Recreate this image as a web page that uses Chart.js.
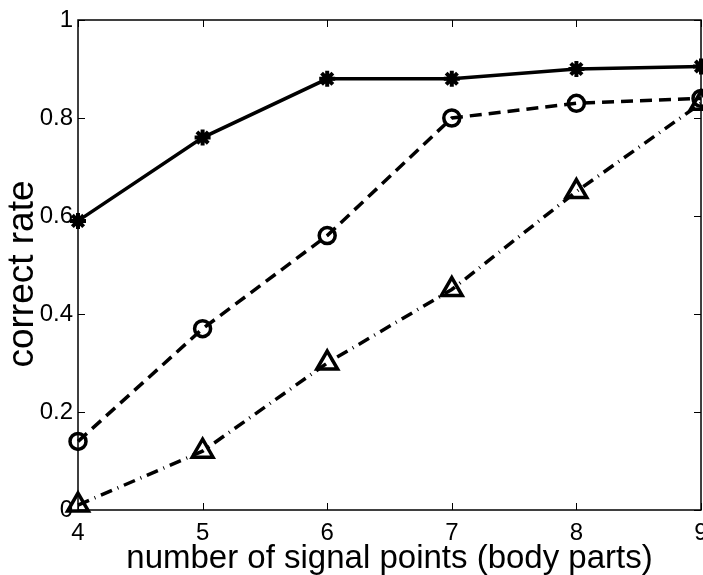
<!DOCTYPE html>
<html>
<head>
<meta charset="utf-8">
<script src="https://cdn.jsdelivr.net/npm/chart.js@4.4.0/dist/chart.umd.min.js"></script>
<style>
  html, body { margin: 0; padding: 0; background: #fff; }
  #wrap { width: 703px; height: 575px; }
</style>
</head>
<body>
<div id="wrap"><canvas id="rateChart" width="703" height="575"></canvas></div>
<script>
// numero di punti segnale (parti del corpo)
const signalPoints = [4, 5, 6, 7, 8, 9];

// tasso di riconoscimento per le tre configurazioni
const rateStar = [0.59, 0.76, 0.88, 0.88, 0.90, 0.905];
const rateCircle = [0.14, 0.37, 0.56, 0.80, 0.83, 0.84];
const rateTriangle = [0.01, 0.12, 0.30, 0.45, 0.65, 0.83];

const xTicks = [4, 5, 6, 7, 8, 9];
const yTicks = [0, 0.2, 0.4, 0.6, 0.8, 1];

const xTitle = 'number of signal points (body parts)';
const yTitle = 'correct rate';

const FONT = '"Liberation Sans", Arial, Helvetica, sans-serif';

function toPoints(values) {
    return signalPoints.map((x, i) => ({ x: x, y: values[i] }));
}

// cornice, tacche interne e titoli degli assi
const framePlugin = {
    id: 'frame',
    afterDraw(chart) {
        const { ctx, chartArea: a, scales } = chart;
        const tl = 7;
        ctx.save();
        ctx.strokeStyle = '#000';
        ctx.lineWidth = 1.5;
        ctx.strokeRect(a.left, a.top, a.right - a.left, a.bottom - a.top);

        ctx.lineWidth = 1;
        ctx.beginPath();
        xTicks.forEach(v => {
            const px = Math.round(scales.x.getPixelForValue(v)) + 0.5;
            ctx.moveTo(px, a.bottom); ctx.lineTo(px, a.bottom - tl);
            ctx.moveTo(px, a.top); ctx.lineTo(px, a.top + tl);
        });
        yTicks.forEach(v => {
            const py = Math.round(scales.y.getPixelForValue(v)) + 0.5;
            ctx.moveTo(a.left, py); ctx.lineTo(a.left + tl, py);
            ctx.moveTo(a.right, py); ctx.lineTo(a.right - tl, py);
        });
        ctx.stroke();

        ctx.fillStyle = '#000';
        ctx.font = '33px ' + FONT;
        ctx.textAlign = 'center';
        ctx.textBaseline = 'alphabetic';
        ctx.fillText(xTitle, (a.left + a.right) / 2, 568);

        ctx.translate(33, (a.top + a.bottom) / 2 + 9);
        ctx.rotate(-Math.PI / 2);
        ctx.font = '37px ' + FONT;
        ctx.fillText(yTitle, 0, 0);
        ctx.restore();
    }
};

const ctx = document.getElementById('rateChart').getContext('2d');

const rateChart = new Chart(ctx, {
    type: 'line',
    data: {
        datasets: [
            {
                label: 'star',
                data: toPoints(rateStar),
                borderColor: '#000',
                borderWidth: 3.5,
                pointStyle: 'star',
                pointRadius: 8,
                pointBorderWidth: 4,
                pointBorderColor: '#000',
                pointBackgroundColor: '#000',
                clip: false
            },
            {
                label: 'circle',
                data: toPoints(rateCircle),
                borderColor: '#000',
                borderWidth: 3.5,
                borderDash: [12, 7],
                pointStyle: 'circle',
                pointRadius: 8,
                pointBorderWidth: 3.5,
                pointBorderColor: '#000',
                pointBackgroundColor: 'rgba(0,0,0,0)',
                clip: false
            },
            {
                label: 'triangle',
                data: toPoints(rateTriangle),
                borderColor: '#000',
                borderWidth: 3.5,
                borderDash: [12, 6, 1, 6],
                pointStyle: 'triangle',
                pointRadius: 12,
                pointBorderWidth: 3.5,
                pointBorderColor: '#000',
                pointBackgroundColor: 'rgba(0,0,0,0)',
                clip: false
            }
        ]
    },
    options: {
        responsive: false,
        animation: false,
        layout: { autoPadding: false, padding: { left: 0, right: 2, top: 20, bottom: 0 } },
        plugins: {
            legend: { display: false },
            tooltip: { enabled: false }
        },
        elements: { line: { tension: 0, borderCapStyle: 'butt' } },
        scales: {
            x: {
                type: 'linear',
                min: 4,
                max: 9,
                afterBuildTicks(scale) {
                    scale.ticks = xTicks.map(v => ({ value: v }));
                },
                afterFit(scale) {
                    scale.height = 65;
                    scale.paddingLeft = 0;
                    scale.paddingRight = 0;
                },
                grid: { display: false, drawTicks: false },
                border: { display: false },
                ticks: {
                    color: '#000',
                    font: { family: FONT, size: 24 },
                    padding: 9,
                    maxRotation: 0,
                    autoSkip: false,
                    callback: v => String(v)
                }
            },
            y: {
                type: 'linear',
                min: 0,
                max: 1,
                afterBuildTicks(scale) {
                    scale.ticks = yTicks.map(v => ({ value: v }));
                },
                afterFit(scale) {
                    scale.width = 78;
                    scale.paddingTop = 0;
                    scale.paddingBottom = 0;
                },
                grid: { display: false, drawTicks: false },
                border: { display: false },
                ticks: {
                    color: '#000',
                    font: { family: FONT, size: 24 },
                    padding: 5,
                    autoSkip: false,
                    callback: v => String(v)
                }
            }
        }
    },
    plugins: [framePlugin]
});
</script>
</body>
</html>
